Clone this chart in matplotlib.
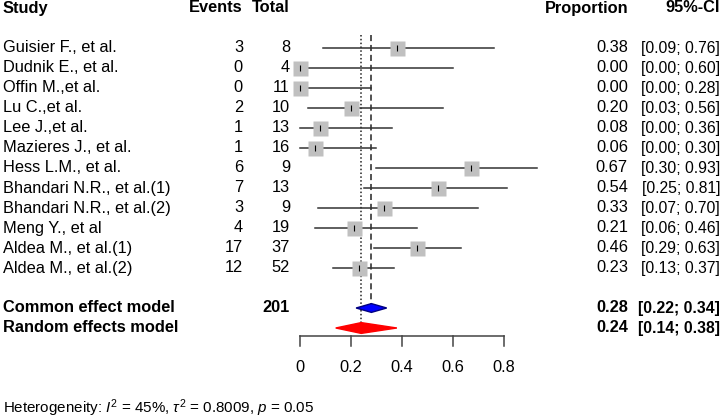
import numpy as np
import matplotlib.pyplot as plt
from matplotlib.transforms import blended_transform_factory
from matplotlib.patches import Polygon

plt.rcParams['font.family'] = ['Liberation Sans', 'DejaVu Sans']
plt.rcParams['mathtext.fontset'] = 'custom'
plt.rcParams['mathtext.rm'] = 'Liberation Sans'
plt.rcParams['mathtext.it'] = 'Liberation Sans:italic'

studies = ["Guisier F., et al.", "Dudnik E., et al.", "Offin M.,et al.", "Lu C.,et al.",
           "Lee J.,et al.", "Mazieres J., et al.", "Hess L.M., et al.",
           "Bhandari N.R., et al.(1)", "Bhandari N.R., et al.(2)", "Meng Y., et al",
           "Aldea M., et al.(1)", "Aldea M., et al.(2)"]
events = [3, 0, 0, 2, 1, 1, 6, 7, 3, 4, 17, 12]
totals = [8, 4, 11, 10, 13, 16, 9, 13, 9, 19, 37, 52]
prop = [0.38, 0.00, 0.00, 0.20, 0.08, 0.06, 0.67, 0.54, 0.33, 0.21, 0.46, 0.23]
lower = [0.09, 0.00, 0.00, 0.03, 0.00, 0.00, 0.30, 0.25, 0.07, 0.06, 0.29, 0.13]
upper = [0.76, 0.60, 0.28, 0.56, 0.36, 0.30, 0.93, 0.81, 0.70, 0.46, 0.63, 0.37]

common = (0.28, 0.22, 0.34)
random_eff = (0.24, 0.14, 0.38)
total_n = 201
ticks = [0, 0.2, 0.4, 0.6, 0.8]
het_text = r"Heterogeneity: $I^2$ = 45%, $\tau^2$ = 0.8009, $p$ = 0.05"

W, H = 724, 418
fig = plt.figure(figsize=(W / 100, H / 100), dpi=100)
ax = fig.add_axes([0, 0, 1, 1])
ax.axis('off')
# x in proportion units: 0 -> 300 px, 0.8 -> 504 px
ppu = 255.0
ax.set_xlim(-300 / ppu, (W - 300) / ppu)
# y in rows: row 0 at 48 px, 20 px per row
ax.set_ylim((H - 48) / 20, -48 / 20)

tx = blended_transform_factory(fig.transFigure, ax.transData)
fs = 11.8
fs_ci = 11.3

n = len(studies)
rows = np.arange(n)
r_common = n + 1
r_random = n + 2

# headers
hdr = dict(fontsize=fs, fontweight='bold', va='center', transform=tx)
ax.text(3 / W, -2, "Study", ha='left', **hdr)
ax.text(243 / W, -2, "Events", ha='right', **hdr)
ax.text(290 / W, -2, "Total", ha='right', **hdr)
ax.text(628 / W, -2, "Proportion", ha='right', **hdr)
ax.text(720 / W, -2, "95%-CI", ha='right', **hdr)

for i in rows:
    kw = dict(fontsize=fs, va='center', transform=tx)
    ax.text(3 / W, i, studies[i], ha='left', **kw)
    ax.text(243 / W, i, str(events[i]), ha='right', **kw)
    ax.text(290 / W, i, str(totals[i]), ha='right', **kw)
    ax.text(628 / W, i, f"{prop[i]:.2f}", ha='right', **kw)
    ax.text(720 / W, i, f"[{lower[i]:.2f}; {upper[i]:.2f}]", ha='right',
            fontsize=fs_ci, va='center', transform=tx)

    ax.plot([lower[i], upper[i]], [i, i], color='#333333', lw=1.1, zorder=2)
    ax.plot(prop[i], i, marker='s', ms=10.8, color='#c0c0c0', mec='none', zorder=3)
    ax.plot(prop[i], i, marker='|', ms=4.5, color='black', mew=0.8, zorder=4)

# pooled rows
bkw = dict(fontsize=fs, fontweight='bold', va='center', transform=tx)
ax.text(3 / W, r_common, "Common effect model", ha='left', **bkw)
ax.text(290 / W, r_common, str(total_n), ha='right', **bkw)
ax.text(628 / W, r_common, f"{common[0]:.2f}", ha='right', **bkw)
ax.text(720 / W, r_common, f"[{common[1]:.2f}; {common[2]:.2f}]", ha='right',
        fontsize=fs_ci, fontweight='bold', va='center', transform=tx)
ax.text(3 / W, r_random, "Random effects model", ha='left', **bkw)
ax.text(628 / W, r_random, f"{random_eff[0]:.2f}", ha='right', **bkw)
ax.text(720 / W, r_random, f"[{random_eff[1]:.2f}; {random_eff[2]:.2f}]", ha='right',
        fontsize=fs_ci, fontweight='bold', va='center', transform=tx)

# reference lines
ax.plot([common[0], common[0]], [-0.65, r_common], color='#222222', lw=1.1,
        ls=(0, (4, 2.5)), zorder=1)
ax.plot([random_eff[0], random_eff[0]], [-0.65, r_random], color='#222222', lw=1.1,
        ls=(0, (1, 1.5)), zorder=1)

# diamonds
dh = 0.22
ax.add_patch(Polygon([(common[1], r_common), (common[0], r_common - dh),
                      (common[2], r_common), (common[0], r_common + dh)],
                     closed=True, fc='#0000ff', ec='#000080', lw=1, zorder=5))
dh2 = 0.27
ax.add_patch(Polygon([(random_eff[1], r_random), (random_eff[0], r_random - dh2),
                      (random_eff[2], r_random), (random_eff[0], r_random + dh2)],
                     closed=True, fc='#ff0000', ec='#ff0000', lw=1, zorder=5))

# x axis
y_axis = r_random + 0.4
ax.plot([ticks[0], ticks[-1]], [y_axis, y_axis], color='#444444', lw=1.1)
for t in ticks:
    ax.plot([t, t], [y_axis, y_axis + 0.5], color='#444444', lw=1.1)
    ax.text(t, r_random + 1.95, f"{t:g}", ha='center', va='center', fontsize=fs)

ax.text(3 / W, r_random + 4, het_text, ha='left', va='center', fontsize=10.9,
        transform=tx)

fig.savefig("out.png", dpi=100)
